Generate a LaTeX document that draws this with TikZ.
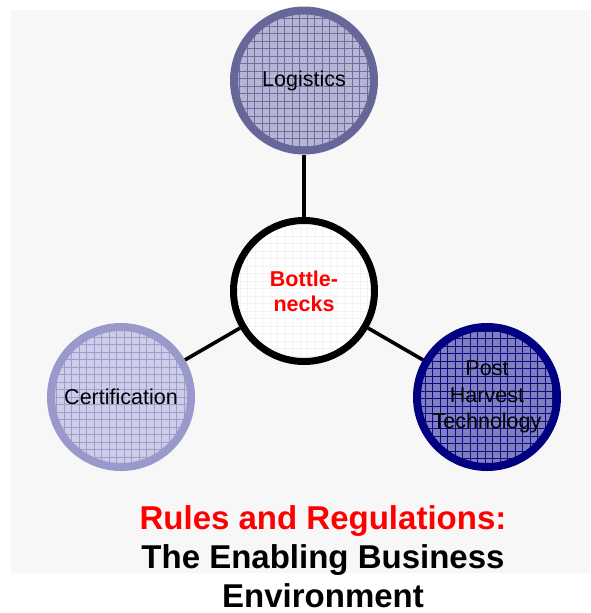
\documentclass[tikz,border=0pt]{standalone}
\usepackage{fontspec}
\setmainfont{Liberation Sans}

\definecolor{fondo}{HTML}{F7F7F7}
\definecolor{logborde}{HTML}{666699}
\definecolor{logrelleno}{HTML}{B6B6D4}
\definecolor{logrejilla}{HTML}{6E6EA2}
\definecolor{certborde}{HTML}{9999CC}
\definecolor{certrelleno}{HTML}{CDCDE8}
\definecolor{certrejilla}{HTML}{9C9CCF}
\definecolor{postborde}{HTML}{000080}
\definecolor{postrelleno}{HTML}{8080C0}
\definecolor{postrejilla}{HTML}{0A0A85}
\definecolor{rojo}{HTML}{FF0000}

\tikzset{circulo/.style={circle, minimum size=140pt, inner sep=0pt, line width=8pt, align=center,
                         font=\fontsize{21.5}{26.5}\selectfont},
         rejilla/.style={path picture={\draw[#1, line width=0.7pt] (path picture bounding box.south west)
                         grid[step=7.5pt] (path picture bounding box.north east);}},
         enlace/.style={line width=3.6pt}}

\begin{document}
\begin{tikzpicture}[x=1pt, y=1pt]
  \useasboundingbox (0,0) rectangle (590,-613);
  \fill[fondo] (11,-10) rectangle (590,-573);

  \node[circulo, draw=black, line width=7pt, minimum size=141pt, fill=white, rejilla=black!5,
        text=rojo, font=\fontsize{21.5}{25}\selectfont\bfseries] (bot) at (304,-291) {Bottle-\\necks};
  \node[circulo, draw=logborde, fill=logrelleno, rejilla=logrejilla] (log) at (304,-80.5) {Logistics};
  \node[circulo, draw=certborde, fill=certrelleno, rejilla=certrejilla] (cert) at (121,-397) {Certification};
  \node[circulo, draw=postborde, fill=postrelleno, rejilla=postrejilla] (post) at (487,-397) {Post\\Harvest\\Technology};

  \draw[enlace] (log) -- (bot);
  \draw[enlace] (bot) -- (cert);
  \draw[enlace] (bot) -- (post);

  \node[anchor=north, inner sep=0pt, align=center, font=\fontsize{33}{39}\selectfont\bfseries] (titulo) at (323,-505)
       {\textcolor{rojo}{Rules and Regulations:}\\The Enabling Business\\Environment};
\end{tikzpicture}
\end{document}
